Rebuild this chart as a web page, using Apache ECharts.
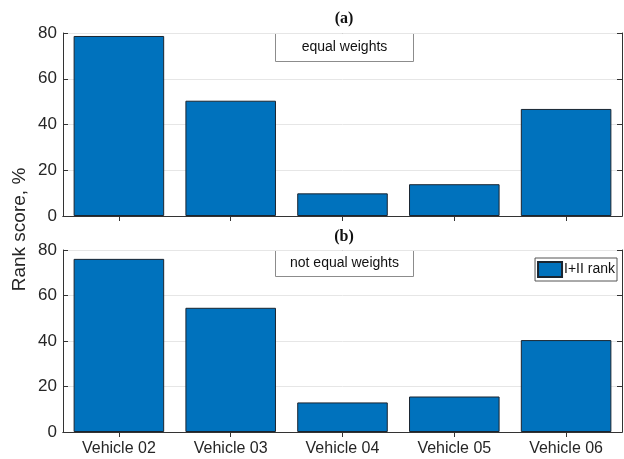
<!DOCTYPE html>
<html>
<head>
<meta charset="utf-8">
<style>html,body{margin:0;padding:0;background:#fff}#chart{width:624px;height:459px}</style>
<script src="https://cdn.jsdelivr.net/npm/echarts@6/dist/echarts.min.js"></script>
</head>
<body>
<div id="chart"></div>
<script>
// Rank scores per vehicle, two weighting schemes
const vehicles = ['Vehicle 02', 'Vehicle 03', 'Vehicle 04', 'Vehicle 05', 'Vehicle 06'];
const equalWeights = [78.7, 50.4, 9.9, 13.9, 46.8];
const notEqualWeights = [76.1, 54.6, 13.0, 15.6, 40.4];
const yTicks = [0, 20, 40, 60, 80];
const seriesName = 'I+II rank';

const chart = echarts.init(document.getElementById('chart'));
const font = "'Liberation Sans', Arial, sans-serif";
const axisColor = '#333333';
const barColor = '#0072BD';

const grids = [
  { left: 63, top: 33, width: 559, height: 183 },
  { left: 63, top: 250, width: 559, height: 182 }
];

function xAxes(gi, showLabels) {
  const base = {
    type: 'category', data: vehicles, gridIndex: gi,
    axisLine: { show: true, lineStyle: { color: axisColor, width: 1 } },
    axisTick: { show: true, inside: true, alignWithLabel: true, length: 5, lineStyle: { color: axisColor } },
    splitLine: { show: false }
  };
  return [
    Object.assign({}, base, {
      position: 'bottom',
      axisLabel: { show: showLabels, color: '#262626', fontFamily: font, fontSize: 16, margin: 9 }
    }),
    Object.assign({}, base, { position: 'top', axisLabel: { show: false } })
  ];
}

function yAxes(gi) {
  const base = {
    type: 'value', gridIndex: gi, min: 0, max: 80, interval: 20,
    axisLine: { show: true, lineStyle: { color: axisColor, width: 1 } },
    axisTick: { show: true, inside: true, length: 5, lineStyle: { color: axisColor } }
  };
  return [
    Object.assign({}, base, {
      position: 'left',
      axisLabel: {
        color: '#262626', fontFamily: font, fontSize: 17, margin: 6,
        formatter: v => (yTicks.indexOf(v) >= 0 ? String(v) : '')
      },
      splitLine: { show: true, lineStyle: { color: '#e6e6e6', width: 1 } }
    }),
    Object.assign({}, base, { position: 'right', axisLabel: { show: false }, splitLine: { show: false } })
  ];
}

const barStyle = { color: barColor, borderColor: '#1a2530', borderWidth: 1 };

function textBox(x, y, w, h, label) {
  return {
    type: 'group', left: x, top: y,
    children: [
      { type: 'rect', shape: { x: 0, y: 0, width: w, height: h },
        style: { fill: '#fff', stroke: '#8c8c8c', lineWidth: 1 } },
      { type: 'text', x: w / 2, y: h / 2,
        style: { text: label, fill: '#111', font: "14px 'Liberation Sans', Arial, sans-serif",
                 textAlign: 'center', textVerticalAlign: 'middle' } }
    ]
  };
}

const titleStyle = { fontFamily: "'Liberation Serif', 'Times New Roman', serif", fontWeight: 'bold', fontSize: 16, color: '#111' };

chart.setOption({
  animation: false,
  backgroundColor: '#ffffff',
  grid: grids,
  xAxis: xAxes(0, false).concat(xAxes(1, true)),
  yAxis: yAxes(0).concat(yAxes(1)),
  title: [
    { text: '(a)', left: 344, top: 11, textAlign: 'center', padding: 0, textStyle: titleStyle },
    { text: '(b)', left: 344, top: 229, textAlign: 'center', padding: 0, textStyle: titleStyle }
  ],
  legend: {
    data: [seriesName], right: 7, top: 258, orient: 'vertical',
    backgroundColor: '#fff', borderColor: '#555', borderWidth: 1, padding: [3, 2, 3, 2],
    itemWidth: 24, itemHeight: 15, itemGap: 0,
    icon: 'rect',
    textStyle: { fontFamily: font, fontSize: 14, color: '#111', padding: [0, 0, 0, -3] }
  },
  graphic: [
    textBox(275, 33, 138, 28, 'equal weights'),
    textBox(275, 250, 138, 26, 'not equal weights'),
    { type: 'text', left: 10, top: 'middle', rotation: Math.PI / 2,
      style: { text: 'Rank score, %', fill: '#262626', font: "19px 'Liberation Sans', Arial, sans-serif" } }
  ],
  series: [
    { name: seriesName, type: 'bar', xAxisIndex: 0, yAxisIndex: 0, data: equalWeights,
      barCategoryGap: '19%', itemStyle: barStyle },
    { name: seriesName, type: 'bar', xAxisIndex: 2, yAxisIndex: 2, data: notEqualWeights,
      barCategoryGap: '19%', itemStyle: barStyle }
  ]
});
</script>
</body>
</html>
